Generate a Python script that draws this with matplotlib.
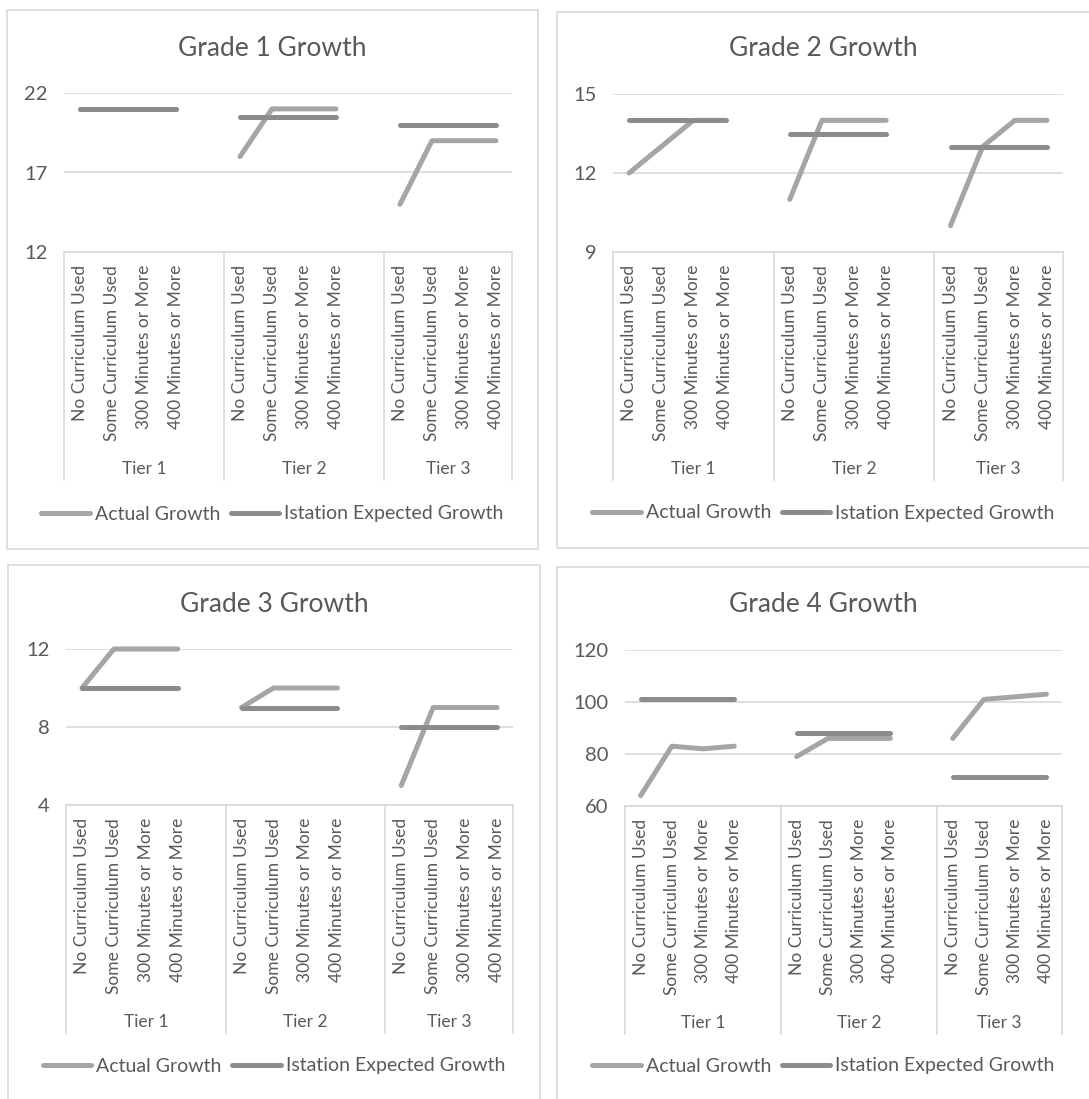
import matplotlib
matplotlib.use("Agg")
import matplotlib.pyplot as plt
from matplotlib.patches import Rectangle
from matplotlib.lines import Line2D
from matplotlib.transforms import blended_transform_factory

plt.rcParams['font.family'] = ['Lato', 'DejaVu Sans']

# data
categories = ["No Curriculum Used", "Some Curriculum Used",
              "300 Minutes or More", "400 Minutes or More"]
tiers = ["Tier 1", "Tier 2", "Tier 3"]
series_names = ["Actual Growth", "Istation Expected Growth"]
titles = ["Grade 1 Growth", "Grade 2 Growth", "Grade 3 Growth", "Grade 4 Growth"]

g1_actual = [21, 21, 21, 21, 18, 21, 21, 21, 15, 19, 19, 19]
g1_expected = [21, 21, 21, 21, 20.5, 20.5, 20.5, 20.5, 20, 20, 20, 20]
g2_actual = [12, 13, 14, 14, 11, 14, 14, 14, 10, 13, 14, 14]
g2_expected = [14, 14, 14, 14, 13.5, 13.5, 13.5, 13.5, 13, 13, 13, 13]
g3_actual = [10, 12, 12, 12, 9, 10, 10, 10, 5, 9, 9, 9]
g3_expected = [10, 10, 10, 10, 9, 9, 9, 9, 8, 8, 8, 8]
g4_actual = [64, 83, 82, 83, 79, 86, 86, 86, 86, 101, 102, 103]
g4_expected = [101, 101, 101, 101, 88, 88, 88, 88, 71, 71, 71, 71]

g1_ticks = [12, 17, 22]
g2_ticks = [9, 12, 15]
g3_ticks = [4, 8, 12]
g4_ticks = [60, 80, 100, 120]

W, H = 1089, 1099
TXT = '#595959'
GRID = '#d9d9d9'
C_ACT = '#a5a5a5'
C_EXP = '#8c8c8c'
LW = 3.6

# panel layout in pixels: border box, plot box, title y, legend y
layout = [
    dict(border=(7, 10, 538, 549), plot=(64, 93, 512, 252), title_y=47, legend_y=514),
    dict(border=(557, 12, 1096, 548), plot=(613, 94, 1063, 252), title_y=48, legend_y=513),
    dict(border=(8, 565, 540, 1106), plot=(66, 649, 513, 805), title_y=603, legend_y=1066),
    dict(border=(557, 567, 1096, 1106), plot=(625, 650, 1062, 806), title_y=604, legend_y=1066),
]

fig = plt.figure(figsize=(W / 100, H / 100), dpi=100)
fig.patch.set_facecolor('white')


def draw_panel(title, actual, expected, yticks, geo):
    bx0, by0, bx1, by1 = geo['border']
    fig.add_artist(Rectangle((bx0 / W, 1 - by1 / H), (bx1 - bx0) / W, (by1 - by0) / H,
                             transform=fig.transFigure, fill=False, ec=GRID, lw=1.2))
    px0, py0, px1, py1 = geo['plot']
    ax = fig.add_axes([px0 / W, 1 - py1 / H, (px1 - px0) / W, (py1 - py0) / H])
    ax_h = py1 - py0
    ax.set_xlim(-0.5, 13.5)
    ax.set_ylim(yticks[0], yticks[-1])
    ax.set_yticks(yticks)
    ax.set_xticks([])
    ax.grid(axis='y', color=GRID, lw=1.2)
    ax.set_axisbelow(True)
    for s in ['top', 'right', 'left']:
        ax.spines[s].set_visible(False)
    ax.spines['bottom'].set_color(GRID)
    ax.spines['bottom'].set_linewidth(1.2)
    ax.tick_params(axis='y', length=0, pad=12, labelsize=14.5, labelcolor=TXT)

    trans = blended_transform_factory(ax.transData, ax.transAxes)
    bounds = [-0.5, 4.5, 9.5, 13.5]
    for b in bounds:
        ax.plot([b, b], [0, -228 / ax_h], transform=trans, color=GRID, lw=1.2, clip_on=False)

    for t in range(3):
        xs = [5 * t + j for j in range(4)]
        ax.plot(xs, actual[4 * t:4 * t + 4], color=C_ACT, lw=LW,
                solid_capstyle='round', solid_joinstyle='round', clip_on=False)
        ax.plot(xs, expected[4 * t:4 * t + 4], color=C_EXP, lw=LW,
                solid_capstyle='round', solid_joinstyle='round', clip_on=False)
        for j, x in enumerate(xs):
            ax.annotate(categories[j], xy=(x, 0), xycoords=('data', 'axes fraction'),
                        xytext=(0, -13), textcoords='offset pixels', rotation=90,
                        ha='center', va='top', fontsize=12.5, color=TXT)
        ax.annotate(tiers[t], xy=((bounds[t] + bounds[t + 1]) / 2, 0),
                    xycoords=('data', 'axes fraction'), xytext=(0, -217),
                    textcoords='offset pixels', ha='center', va='center',
                    fontsize=12.5, color=TXT)

    cx = (bx0 + min(bx1, W + 1)) / 2
    fig.text(cx / W, 1 - (geo['title_y'] + 1) / H, title, ha='center', va='center',
             fontsize=19, color=TXT)

    handles = [Line2D([], [], color=C_ACT, lw=LW, solid_capstyle='round'),
               Line2D([], [], color=C_EXP, lw=LW, solid_capstyle='round')]
    ax.legend(handles, series_names, loc='center',
              bbox_to_anchor=(cx / W, 1 - geo['legend_y'] / H),
              bbox_transform=fig.transFigure, ncol=2, frameon=False,
              fontsize=14, handlelength=2.5, handletextpad=0.25,
              columnspacing=0.55, labelcolor=TXT, borderpad=0)


draw_panel(titles[0], g1_actual, g1_expected, g1_ticks, layout[0])
draw_panel(titles[1], g2_actual, g2_expected, g2_ticks, layout[1])
draw_panel(titles[2], g3_actual, g3_expected, g3_ticks, layout[2])
draw_panel(titles[3], g4_actual, g4_expected, g4_ticks, layout[3])

fig.savefig('out.png', dpi=100)
